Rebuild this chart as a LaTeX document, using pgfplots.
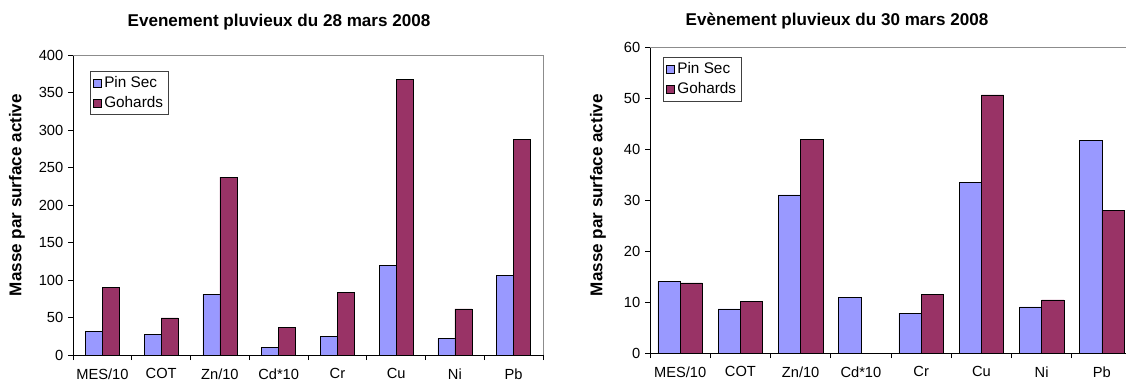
\documentclass[border=0pt]{standalone}
\usepackage{fontspec}
\setmainfont{Liberation Sans}
\usepackage{pgfplots}
\usepackage{pgfplotstable}
\pgfplotsset{compat=1.18}

\definecolor{pinsec}{RGB}{153,153,255}
\definecolor{gohards}{RGB}{153,51,102}
\definecolor{frame}{RGB}{140,140,140}

% 28 mars 2008
\pgfplotstableread{
cat pin goh
0 31.4 90.6
1 27.8 49.5
2 81.3 237.3
3 9.7 36.7
4 24.3 84.0
5 118.9 366.9
6 22.1 61.4
7 106.0 288.0
}\marsA

% 30 mars 2008
\pgfplotstableread{
cat pin goh
0 14.0 13.75
1 8.64 10.15
2 31.0 41.8
3 10.87 nan
4 7.8 11.46
5 33.5 50.6
6 9.04 10.4
7 41.7 28.0
}\marsB

\pgfplotsset{
  excel/.style={
    scale only axis,
    clip=false,
    xmin=-0.5, xmax=7.5, ymin=0,
    axis x line*=bottom, axis y line*=left,
    axis line style={-, black, line width=0.6pt},
    tick align=outside,
    major tick length=3.75pt,
    tick style={black, line width=0.6pt},
    xtick={-0.5,0.5,...,6.5},
    extra x ticks={7.5}, extra x tick labels={},
    xticklabels={MES/10,COT,Zn/10,Cd*10,Cr,Cu,Ni,Pb},
    ticklabel style={font=\fontsize{11}{13}\selectfont},
    /pgf/number format/assume math mode=true,
    ylabel={Masse par surface active},
    ylabel style={font=\bfseries\fontsize{12.8}{14}\selectfont, anchor=center},
    legend cell align=left,
    legend style={anchor=north west, draw=black!75, line width=0.5pt,
      font=\fontsize{11.5}{14}\selectfont, inner sep=2pt, row sep=1pt},
    legend image code/.code={
      \draw[#1, draw=black, line width=0.5pt] (0pt,-3pt) rectangle (6pt,3pt);},
  },
}

\begin{document}
\begin{tikzpicture}

\begin{axis}[excel,
    at={(54.75pt,21pt)}, anchor=south west,
    width=352.5pt, height=225pt,
    ymax=400, ytick={0,50,...,400},
    xticklabel style={xshift=22.05pt, yshift=-3pt},
    ylabel style={at={(axis description cs:-0.119,0.533)}},
    legend style={at={(axis description cs:0.036,0.947)}},
  ]
  \addplot[ybar, bar width=0.29, bar shift=-0.145, fill=pinsec, draw=black, line width=0.5pt]
    table[x=cat, y=pin] {\marsA};
  \addplot[ybar, bar width=0.29, bar shift=0.145, fill=gohards, draw=black, line width=0.5pt]
    table[x=cat, y=goh] {\marsA};
  \legend{Pin Sec, Gohards}
  \draw[frame, line width=0.6pt] (rel axis cs:0,1) -- (rel axis cs:1,1) -- (rel axis cs:1,0);
\end{axis}

\begin{axis}[excel,
    at={(487.5pt,22.5pt)}, anchor=south west,
    width=361.5pt, height=229.5pt,
    ymax=60, ytick={0,10,...,60},
    xticklabel style={xshift=22.6pt, yshift=-3pt},
    ylabel style={at={(axis description cs:-0.108,0.516)}},
    legend style={at={(axis description cs:0.027,0.967)}},
  ]
  \addplot[ybar, bar width=0.37, bar shift=-0.185, fill=pinsec, draw=black, line width=0.5pt]
    table[x=cat, y=pin] {\marsB};
  \addplot[ybar, bar width=0.37, bar shift=0.185, fill=gohards, draw=black, line width=0.5pt]
    table[x=cat, y=goh] {\marsB};
  \legend{Pin Sec, Gohards}
  \draw[frame, line width=0.6pt] (rel axis cs:0,1) -- (rel axis cs:1,1) -- (rel axis cs:1,0);
\end{axis}

\node[font=\bfseries\fontsize{12.8}{14}\selectfont] at (209.25pt,270.75pt)
  {Evenement pluvieux du 28 mars 2008};
\node[font=\bfseries\fontsize{12.8}{14}\selectfont] at (627.75pt,271.5pt)
  {Evènement pluvieux du 30 mars 2008};

\pgfresetboundingbox
\useasboundingbox (0pt,0pt) rectangle (844.5pt,287.25pt);
\end{tikzpicture}
\end{document}
